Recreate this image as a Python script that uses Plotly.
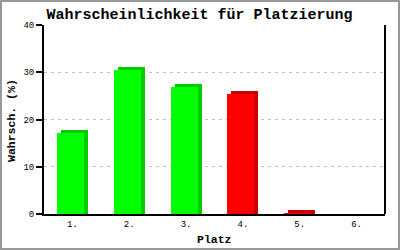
import plotly.graph_objects as go

categories = ["1.", "2.", "3.", "4.", "5.", "6."]
values = [17.1, 30.5, 26.9, 25.4, 0.05, 0.0]
front_colors = ["#00ff00", "#00ff00", "#00ff00", "#ff0000", "#ff0000", "#ff0000"]
side_colors = ["#00cc00", "#00cc00", "#00cc00", "#cc0000", "#cc0000", "#cc0000"]
y_ticks = [0, 10, 20, 30, 40]

W, H = 400, 250
L, R, T, B = 44, 15, 25, 36
pw, ph = W - L - R, H - T - B
cat_px = pw / len(categories)
unit_px = ph / 40.0

bar_w = 27 / cat_px
depth_x = 4 / cat_px
depth_y = 3.3 / unit_px
off = -(bar_w + depth_x) / 2

mono = "Liberation Mono, DejaVu Sans Mono, monospace"

fig = go.Figure()
fig.add_trace(go.Bar(
    x=categories, y=[v + depth_y if v > 0 else 0 for v in values],
    width=bar_w, offset=off + depth_x,
    marker=dict(color=side_colors, line=dict(width=0)),
    hoverinfo="skip", showlegend=False))
fig.add_trace(go.Bar(
    x=categories, y=values,
    width=bar_w, offset=off,
    marker=dict(color=front_colors, line=dict(width=0)),
    showlegend=False))

def px_x(p):
    return (p - L) / pw

def px_y(p):
    return (H - B - p) / ph

fig.update_layout(
    width=W, height=H,
    margin=dict(l=L, r=R, t=T, b=B),
    paper_bgcolor="white", plot_bgcolor="white",
    barmode="overlay", bargap=0,
    title=dict(text="Wahrscheinlichkeit für Platzierung",
               font=dict(family=mono, size=15, color="black", weight="bold"),
               x=(47 + 352) / 2 / W, xanchor="center", y=1 - 13.5 / H, yanchor="middle",
               yref="container"),
    xaxis=dict(type="category", range=[-0.5, 5.5], showline=True, linecolor="black",
               linewidth=2, ticks="", showgrid=False, zeroline=False,
               tickfont=dict(family=mono, size=9, color="black"), fixedrange=True),
    yaxis=dict(range=[0, 40], tickvals=y_ticks, showline=True, linecolor="black",
               linewidth=2, ticks="outside", ticklen=6, tickwidth=2, tickcolor="black",
               showgrid=True, gridcolor="#c0c0c0", griddash="3px,4px", gridwidth=1,
               zeroline=False, tickfont=dict(family=mono, size=9, color="black"),
               fixedrange=True),
    shapes=[
        dict(type="line", xref="paper", yref="paper", x0=1, x1=1, y0=0, y1=1,
             line=dict(color="black", width=2)),
        dict(type="rect", xref="paper", yref="paper",
             x0=px_x(1), x1=px_x(399), y0=px_y(249), y1=px_y(1),
             line=dict(color="#999999", width=2), layer="above"),
    ],
    annotations=[
        dict(text="Wahrsch. (%)", xref="paper", yref="paper", x=px_x(11), y=px_y(121),
             textangle=-90, showarrow=False, xanchor="center", yanchor="middle",
             font=dict(family=mono, size=11.5, color="black", weight="bold")),
        dict(text="Platz", xref="paper", yref="paper", x=px_x(214), y=px_y(239),
             showarrow=False, xanchor="center", yanchor="middle",
             font=dict(family=mono, size=11.5, color="black", weight="bold")),
    ],
)

fig.write_html("out.html")
